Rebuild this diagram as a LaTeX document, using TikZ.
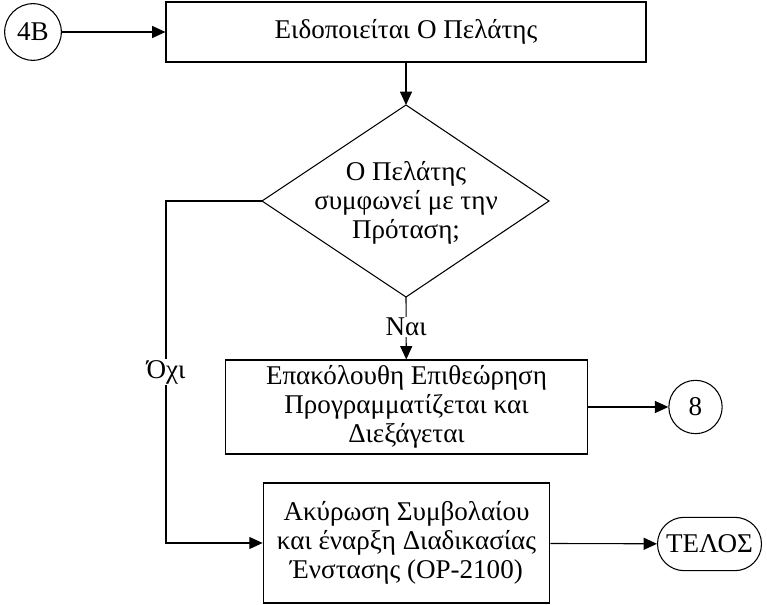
\documentclass[tikz,border=0pt]{standalone}
\usepackage{fontspec}
\setmainfont{Liberation Serif}
\usetikzlibrary{arrows.meta,shapes.geometric,shapes.misc}
\begin{document}
\begin{tikzpicture}[x=0.75pt,y=-0.75pt,
  every node/.style={font=\fontsize{20.3pt}{21.5pt}\selectfont, align=center, inner sep=0pt},
  conn/.style={draw, line width=0.8pt, -{Triangle[length=10pt,width=9pt]}},
  lbl/.style={fill=white, inner sep=1pt}]
\useasboundingbox (0,0) rectangle (767,605);
% nodes
\node[draw, circle, line width=0.8pt, minimum size=42.5pt] (c4b) at (33,32) {4B};
\node[draw, line width=0.8pt, minimum width=360pt, minimum height=45pt] (b1) at (406,32) {Ειδοποιείται Ο Πελάτης};
\coordinate (dt) at (406,105);
\coordinate (dl) at (262,201);
\coordinate (dr) at (549,201);
\coordinate (db) at (406,297);
\draw[line width=0.8pt] (dt) -- (dr) -- (db) -- (dl) -- cycle;
\node (dtext) at (406,203) {Ο Πελάτης\\συμφωνεί με την\\Πρόταση;};
\node[draw, line width=0.8pt, minimum width=272pt, minimum height=70.5pt] (b2) at (406.5,407) {Επακόλουθη Επιθεώρηση\\Προγραμματίζεται και\\Διεξάγεται};
\node[draw, circle, line width=0.8pt, minimum size=40pt] (c8) at (695.5,407) {8};
\node[draw, line width=0.8pt, minimum width=215pt, minimum height=90pt] (b3) at (406.5,543) {Ακύρωση Συμβολαίου\\και έναρξη Διαδικασίας\\Ένστασης (OP-2100)};
\node[draw, line width=0.8pt, rounded rectangle, minimum width=78pt, minimum height=40pt] (end) at (709.5,544) {ΤΕΛΟΣ};
\coordinate (corner1) at (166,201);
\coordinate (corner2) at (166,543);
% connectors
\draw[conn] (c4b) -- (b1);
\draw[conn] (b1) -- (dt);
\draw[conn] (db) -- node[lbl, pos=0.48] {Ναι} (b2);
\draw[conn] (b2) -- (c8);
\draw[conn] (dl) -- (corner1) -- node[lbl, pos=0.5] {Όχι} (corner2) -- (b3);
\draw[conn] (b3) -- (end);
\end{tikzpicture}
\end{document}
